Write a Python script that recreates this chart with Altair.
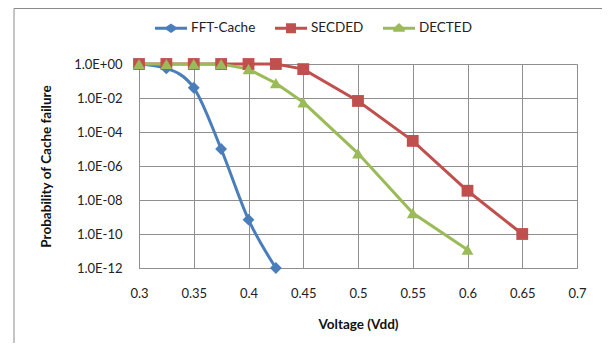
import altair as alt
import pandas as pd

series_names = ["FFT-Cache", "SECDED", "DECTED"]
series_colors = ["#4A7EBB", "#C0504D", "#9BBB59"]

volt_fft = [0.3, 0.325, 0.35, 0.375, 0.4, 0.425]
prob_fft = [1.0, 0.55, 0.04, 1e-5, 7e-10, 1e-12]

volt_sec = [0.3, 0.325, 0.35, 0.375, 0.4, 0.425, 0.45, 0.5, 0.55, 0.6, 0.65]
prob_sec = [1.0, 1.0, 1.0, 1.0, 1.0, 1.0, 0.5, 6.7e-3, 3e-5, 3.5e-8, 1e-10]

volt_dec = [0.3, 0.325, 0.35, 0.375, 0.4, 0.425, 0.45, 0.5, 0.55, 0.6]
prob_dec = [1.0, 1.0, 1.0, 1.0, 0.5, 0.074, 5.6e-3, 5.6e-6, 1.7e-9, 1.2e-11]

x_ticks = [0.3, 0.35, 0.4, 0.45, 0.5, 0.55, 0.6, 0.65, 0.7]
y_ticks = [1.0, 1e-2, 1e-4, 1e-6, 1e-8, 1e-10, 1e-12]

rows = []
for name, vs, ps in [("FFT-Cache", volt_fft, prob_fft),
                     ("SECDED", volt_sec, prob_sec),
                     ("DECTED", volt_dec, prob_dec)]:
    for v, p in zip(vs, ps):
        rows.append({"series": name, "voltage": v, "prob": p, "order": series_names.index(name)})
df = pd.DataFrame(rows)

FONT = "Lato"
GRID = "#8f8f8f"

x_enc = alt.X("voltage:Q",
              scale=alt.Scale(domain=[0.3, 0.7], nice=False, zero=False),
              axis=alt.Axis(values=x_ticks, format="~g", title="Voltage (Vdd)",
                            grid=True, gridColor=GRID, domainColor=GRID,
                            ticks=False, labelPadding=19, titlePadding=17,
                            labelFlush=False,
                            labelFontSize=13, titleFontSize=13.5, titleFontWeight="bold",
                            labelColor="#222", titleColor="#111", labelFont=FONT, titleFont=FONT))
label_expr = ("'1.0E' + (round(log(datum.value)/LN10) >= 0 ? '+' : '-') + "
              "(abs(round(log(datum.value)/LN10)) < 10 ? '0' : '') + abs(round(log(datum.value)/LN10))")
y_enc = alt.Y("prob:Q",
              scale=alt.Scale(type="log", domain=[1e-12, 1.0], nice=False),
              axis=alt.Axis(values=y_ticks, labelExpr=label_expr,
                            title="Probability of Cache failure",
                            grid=True, gridColor=GRID, domainColor=GRID,
                            ticks=False, labelPadding=17, titlePadding=20,
                            labelFlush=False,
                            labelFontSize=13, titleFontSize=13.5, titleFontWeight="bold",
                            labelColor="#222", titleColor="#111", labelFont=FONT, titleFont=FONT))

color_scale = alt.Scale(domain=series_names, range=series_colors)
shape_scale = alt.Scale(domain=series_names, range=["diamond", "square", "triangle-up"])

base = alt.Chart(df)

line_fft = base.mark_line(strokeWidth=3, interpolate="monotone").encode(
    x=x_enc, y=y_enc,
    color=alt.Color("series:N", scale=color_scale, legend=None),
).transform_filter(alt.datum.series == "FFT-Cache")

line_ecc = base.mark_line(strokeWidth=3).encode(
    x=x_enc, y=y_enc,
    color=alt.Color("series:N", scale=color_scale, legend=None),
    detail="series:N",
).transform_filter(alt.datum.series != "FFT-Cache")

points = base.mark_point(filled=True, opacity=1, size=140, strokeWidth=0).encode(
    x=x_enc, y=y_enc,
    color=alt.Color("series:N", scale=color_scale, legend=None),
    shape=alt.Shape("series:N", scale=shape_scale, legend=None),
    order="order:Q",
)

# legend symbols: line segment with the series marker
lw = 0.094
legend_paths = [
    f"M-1,-{lw} L-0.3,-{lw} L0,-0.3 L0.3,-{lw} L1,-{lw} L1,{lw} L0.3,{lw} L0,0.3 L-0.3,{lw} L-1,{lw} Z",
    f"M-1,-{lw} L-0.31,-{lw} L-0.31,-0.31 L0.31,-0.31 L0.31,-{lw} L1,-{lw} L1,{lw} L0.31,{lw} L0.31,0.31 L-0.31,0.31 L-0.31,{lw} L-1,{lw} Z",
    f"M-1,-{lw} L-0.25,-{lw} L0,-0.33 L0.25,-{lw} L1,-{lw} L1,{lw} L0.36,{lw} L0.36,0.22 L-0.36,0.22 L-0.36,{lw} L-1,{lw} Z",
]
leg = dict(title=None, orient="none", legendX=16, legendY=-52,
           direction="horizontal", symbolSize=1024,
           symbolStrokeWidth=0, labelOffset=4, columnPadding=19,
           labelFontSize=13.5, labelFont=FONT, labelColor="#222", padding=0)
legend_layer = base.mark_point(filled=True, opacity=1, strokeWidth=0).encode(
    x=x_enc, y=y_enc,
    color=alt.Color("series:N", scale=alt.Scale(domain=series_names, range=series_colors),
                    legend=alt.Legend(**leg)),
    shape=alt.Shape("series:N", scale=alt.Scale(domain=series_names, range=legend_paths),
                    legend=alt.Legend(**leg)),
).transform_filter("false")

frame = alt.Chart(pd.DataFrame({"k": [0]})).mark_rect(
    fill=None, stroke="#8a8a8a", strokeWidth=1
).encode(x=alt.value(-125), x2=alt.value(466), y=alt.value(-55.5), y2=alt.value(320))

chart = alt.layer(frame, line_fft, line_ecc, points, legend_layer).resolve_scale(
    color="independent", shape="independent"
).properties(
    width=438, height=204,
    autosize=alt.AutoSizeParams(type="none"),
    padding={"left": 131, "top": 56, "right": 25, "bottom": 75},
).configure_view(stroke=None).configure(background="white")

chart.save("out.html", embed_options={"renderer": "svg", "actions": False})
